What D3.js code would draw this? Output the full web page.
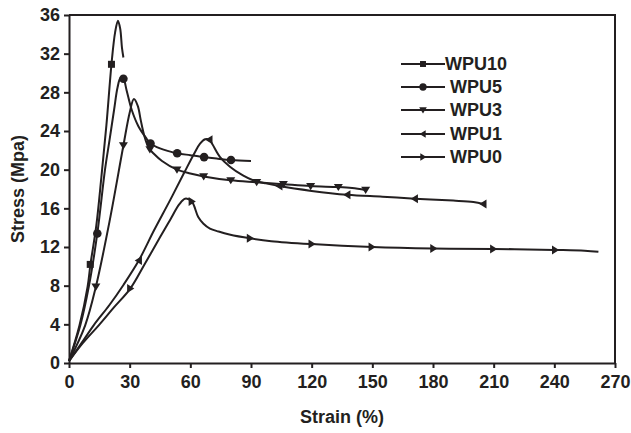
<!DOCTYPE html>
<html><head><meta charset="utf-8">
<script src="https://cdn.jsdelivr.net/npm/d3@7/dist/d3.min.js"></script>
<style>body{margin:0;background:#fff}svg{display:block}text{font-family:"Liberation Sans",Arial,sans-serif;font-weight:bold;fill:#231f20}</style>
</head><body>
<svg id="c" width="631" height="433"></svg>
<script>
const xTicks = [0,30,60,90,120,150,180,210,240,270];
const yTicks = [0,4,8,12,16,20,24,28,32,36];
const seriesNames = ["WPU10","WPU5","WPU3","WPU1","WPU0"];

const wpu10Curve = [[0,0.2],[5.2,3.9],[9.2,7.9],[10.6,10.2],[13.5,14.2],[16,19.2],[18.5,24.6],[21,30.9],[22.8,34.2],[24.2,35.4],[25.3,34.6],[26.2,32.6],[26.9,31.6]];
const wpu10Markers = [[10.5,10.2],[21,30.9]];

const wpu5Curve = [[0,0.2],[5.6,3.9],[9.8,7.9],[14,13.4],[17.8,20],[20,23],[22.3,26.2],[24,28.5],[25.5,29.5],[26.9,29.4],[28.5,28.2],[31,26.2],[34.3,24.5],[38.4,23.2],[40.3,22.7],[45,22.2],[53.5,21.7],[60,21.5],[66.8,21.3],[73,21.15],[80.1,21.0],[90,20.9]];
const wpu5Markers = [[14,13.4],[26.9,29.4],[40.3,22.7],[53.5,21.7],[66.8,21.3],[80.1,21.0]];

const wpu3Curve = [[0,0.2],[8,3.9],[13.3,7.9],[20,14.6],[26.9,22.5],[30,25.9],[32.1,27.3],[34,26.6],[35.5,25.1],[37,23.7],[38.5,22.7],[40,22.1],[41.7,21.7],[46,20.9],[53.4,20.0],[60,19.6],[66.6,19.3],[80,18.9],[92.8,18.7],[106,18.5],[119.5,18.3],[133.2,18.2],[140,18.1],[146.7,17.9]];
const wpu3Markers = [[13.3,7.9],[26.9,22.5],[40,22.1],[53.4,20.0],[66.6,19.3],[80,18.9],[92.8,18.7],[106,18.5],[119.5,18.3],[133.2,18.2],[146.7,17.9]];

const wpu1Curve = [[0,0.2],[6,2.0],[12.2,3.9],[20,6.0],[27,8.1],[34.5,10.6],[42,13.7],[50,16.85],[57,19.7],[62,21.7],[64.8,22.7],[67.3,23.15],[69.4,23.1],[71,22.6],[74.7,21.3],[79.6,20.3],[86,19.4],[91,18.9],[97,18.6],[104,18.3],[120,17.8],[137.6,17.4],[155,17.2],[171,17.0],[190,16.8],[200,16.65],[204.9,16.45]];
const wpu1Markers = [[34.5,10.6],[69.4,23.1],[104,18.3],[137.6,17.4],[171,17.0],[204.9,16.45]];

const wpu0Curve = [[0,0.2],[7,2.1],[14.7,3.9],[22,5.7],[30.3,7.7],[37.6,10.3],[45,13.0],[50,14.8],[54.5,16.4],[57.4,17.0],[60.7,16.7],[63.9,15.1],[66.5,14.4],[69.7,13.9],[74,13.6],[79.3,13.3],[89.5,12.9],[100,12.6],[120,12.3],[150,12.0],[180,11.85],[210,11.8],[240,11.7],[255,11.62],[261.8,11.5]];
const wpu0Markers = [[30.3,7.7],[60.7,16.7],[89.5,12.9],[120,12.3],[149.7,12.0],[180.2,11.85],[209.8,11.8],[240.4,11.7]];

const curves = [wpu10Curve,wpu5Curve,wpu3Curve,wpu1Curve,wpu0Curve];
const markers = [wpu10Markers,wpu5Markers,wpu3Markers,wpu1Markers,wpu0Markers];
const shapes = ["square","circle","down","left","right"];

const ink = "#231f20";
const L=69, R=615, T=15, B=363;
const svg = d3.select("#c");
const x = d3.scaleLinear().domain([0,270]).range([L,R]);
const y = d3.scaleLinear().domain([0,36]).range([B,T]);

// frame
svg.append("path").attr("d",`M${L},${T}H${R}V${B}`).attr("fill","none").attr("stroke",ink).attr("stroke-width",2);

const xa = svg.append("g").attr("transform",`translate(0,${B})`)
  .call(d3.axisBottom(x).tickValues(xTicks).tickSize(5).tickPadding(5).tickSizeOuter(0));
const ya = svg.append("g").attr("transform",`translate(${L},0)`)
  .call(d3.axisLeft(y).tickValues(yTicks).tickSize(5).tickPadding(4).tickSizeOuter(0));
[xa,ya].forEach(a=>{
  a.select(".domain").attr("stroke",ink).attr("stroke-width",2);
  a.selectAll(".tick line").attr("stroke",ink).attr("stroke-width",2);
  a.selectAll("text").attr("font-size",18).attr("font-family","Liberation Sans, Arial").attr("font-weight","bold").attr("fill",ink);
});
xa.selectAll("text").attr("dy","0.85em");

svg.append("text").attr("x",(L+R)/2).attr("y",423).attr("text-anchor","middle").attr("font-size",18).text("Strain (%)");
svg.append("text").attr("transform",`translate(24,${(T+B)/2}) rotate(-90)`).attr("text-anchor","middle").attr("font-size",18).text("Stress (Mpa)");

const line = d3.line().x(d=>x(d[0])).y(d=>y(d[1])).curve(d3.curveCatmullRom.alpha(0.5));
curves.forEach(c=>{
  svg.append("path").attr("d",line(c)).attr("fill","none").attr("stroke",ink).attr("stroke-width",2).attr("stroke-linejoin","round");
});

function drawMarker(g,shape,cx,cy,s){
  if(shape==="square") g.append("rect").attr("x",cx-3.5*s).attr("y",cy-3.5*s).attr("width",7*s).attr("height",7*s).attr("fill",ink);
  else if(shape==="circle") g.append("circle").attr("cx",cx).attr("cy",cy).attr("r",4.3*s).attr("fill",ink);
  else {
    let p;
    const a=4.5*s;
    if(shape==="down") p=[[cx-a,cy-a*0.7],[cx+a,cy-a*0.7],[cx,cy+a*0.9]];
    if(shape==="left") p=[[cx+a*0.7,cy-a],[cx+a*0.7,cy+a],[cx-a*0.9,cy]];
    if(shape==="right") p=[[cx-a*0.7,cy-a],[cx-a*0.7,cy+a],[cx+a*0.9,cy]];
    g.append("polygon").attr("points",p.map(q=>q.join(",")).join(" ")).attr("fill",ink);
  }
}
const mg = svg.append("g");
markers.forEach((m,i)=>m.forEach(d=>drawMarker(mg,shapes[i],x(d[0]),y(d[1]),1)));

// legend
const legY = [64,87,110,134,157];
const lg = svg.append("g");
seriesNames.forEach((n,i)=>{
  lg.append("line").attr("x1",401).attr("x2",445).attr("y1",legY[i]).attr("y2",legY[i]).attr("stroke",ink).attr("stroke-width",2);
  drawMarker(lg,shapes[i],423,legY[i],0.85);
  lg.append("text").attr("x",i===0?445:450).attr("y",legY[i]).attr("dy","0.36em").attr("font-size",18).text(n);
});
</script>
</body></html>
